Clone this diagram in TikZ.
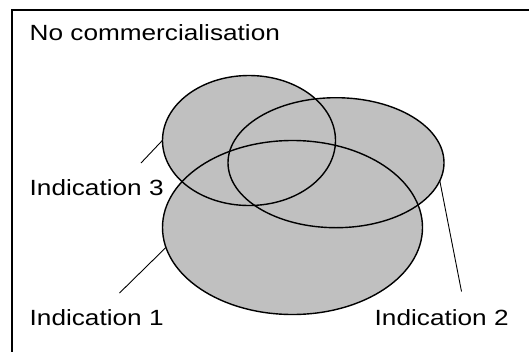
\documentclass[tikz,border=0pt]{standalone}
\usepackage{fontspec}
\setmainfont[FakeStretch=1.19]{Liberation Sans}
\usetikzlibrary{shapes.geometric}
\begin{document}
\begin{tikzpicture}[x=1pt,y=-1pt,
  blob/.style={ellipse,fill={rgb,255:red,192;green,192;blue,192},inner sep=0pt,draw=none},
  outline/.style={line width=1.4pt,black},
  leader/.style={line width=0.9pt,black},
  lbl/.style={anchor=base west,inner sep=0pt,font=\fontsize{22}{26}\selectfont}]
\useasboundingbox (0,0) rectangle (529,351);
\fill[white] (0,0) rectangle (529,351);
% frame
\draw[line width=1.5pt] (12,355) -- (12,10) -- (533,10);
% fills
\node[blob,minimum width=173pt,minimum height=130pt] (e3) at (249,140.5) {};
\node[blob,minimum width=216pt,minimum height=130pt] (e2) at (336,162.7) {};
\node[blob,minimum width=260pt,minimum height=174pt] (e1) at (292.5,227.5) {};
% outlines
\draw[outline] (e3.center) ellipse [x radius=86.5, y radius=65];
\draw[outline] (e2.center) ellipse [x radius=108, y radius=65];
\draw[outline] (e1.center) ellipse [x radius=130, y radius=87];
% labels
\node[lbl] (t0) at (29.5,40.5) {No commercialisation};
\node[lbl] (t3) at (29.5,195.5) {Indication 3};
\node[lbl] (t1) at (29.5,325.5) {Indication 1};
\node[lbl] (t2) at (374.5,325.5) {Indication 2};
% leader lines
\coordinate (c3) at (141,163);
\coordinate (c1) at (119.5,293);
\coordinate (c2) at (461.5,291.5);
\draw[leader] (c3) -- (e3.west);
\draw[leader] (c1) -- (e1.189);
\draw[leader] (c2) -- (e2.350);
\end{tikzpicture}
\end{document}
